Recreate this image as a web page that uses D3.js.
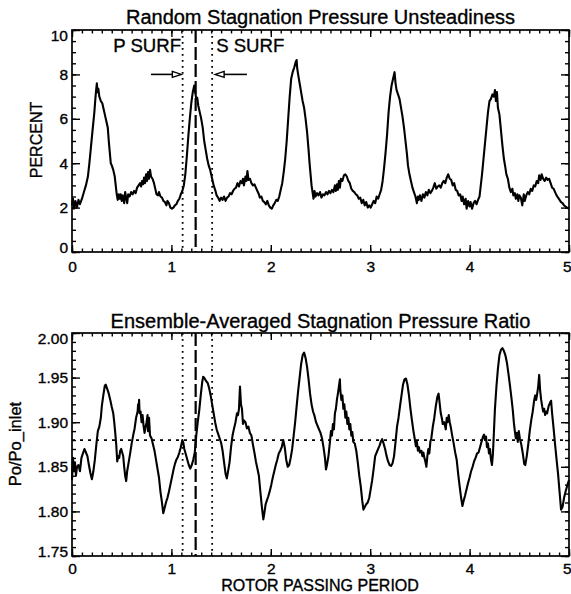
<!DOCTYPE html>
<html>
<head>
<meta charset="utf-8">
<script src="https://d3js.org/d3.v7.min.js"></script>
<style>
  body { margin: 0; background: #fff; }
  text { font-family: "Liberation Sans", Arial, Helvetica, sans-serif; fill: #000; stroke: #000; stroke-width: 0.35px; }
</style>
</head>
<body>
<svg width="571" height="594"></svg>
<script>
// ---- data ----
const titles = ["Random Stagnation Pressure Unsteadiness", "Ensemble-Averaged Stagnation Pressure Ratio"];
const yTitles = ["PERCENT", "Po/Po_inlet"];
const xTitle = "ROTOR PASSING PERIOD";

// rotor passing period (x) and percent (y), upper panel
const unsteadyX = [0.00,0.01,0.02,0.035,0.05,0.065,0.08,0.10,0.12,0.14,0.16,0.175,0.19,0.205,0.225,0.235,0.243,0.25,0.258,0.265,0.275,0.29,0.305,0.315,0.33,0.345,0.36,0.37,0.38,0.39,0.40,0.415,0.43,0.44,0.45,0.46,0.47,0.48,0.49,0.50,0.51,0.525,0.535,0.545,0.555,0.565,0.58,0.595,0.61,0.625,0.64,0.655,0.67,0.685,0.695,0.705,0.715,0.725,0.735,0.745,0.755,0.765,0.775,0.785,0.795,0.81,0.825,0.835,0.85,0.865,0.875,0.89,0.905,0.92,0.935,0.95,0.96,0.975,0.99,1.005,1.02,1.035,1.05,1.065,1.08,1.095,1.11,1.125,1.14,1.155,1.17,1.185,1.20,1.215,1.23,1.24,1.25,1.26,1.27,1.285,1.30,1.315,1.33,1.345,1.36,1.375,1.39,1.40,1.41,1.425,1.44,1.455,1.47,1.485,1.50,1.515,1.53,1.545,1.56,1.575,1.59,1.605,1.62,1.635,1.65,1.665,1.68,1.695,1.71,1.72,1.73,1.745,1.755,1.765,1.775,1.79,1.805,1.82,1.835,1.85,1.865,1.88,1.89,1.905,1.92,1.935,1.95,1.965,1.98,1.995,2.01,2.025,2.04,2.055,2.07,2.085,2.10,2.115,2.13,2.145,2.16,2.175,2.19,2.205,2.22,2.235,2.25,2.26,2.265,2.275,2.29,2.305,2.32,2.335,2.35,2.365,2.38,2.39,2.40,2.41,2.42,2.43,2.44,2.45,2.465,2.48,2.495,2.51,2.525,2.54,2.555,2.57,2.585,2.60,2.615,2.63,2.645,2.655,2.665,2.675,2.685,2.695,2.705,2.72,2.735,2.75,2.765,2.78,2.795,2.81,2.825,2.84,2.855,2.87,2.885,2.90,2.915,2.93,2.945,2.96,2.975,2.99,3.005,3.02,3.035,3.05,3.065,3.08,3.095,3.11,3.125,3.14,3.155,3.17,3.185,3.20,3.215,3.23,3.245,3.255,3.265,3.28,3.295,3.31,3.325,3.34,3.355,3.37,3.38,3.395,3.41,3.425,3.44,3.455,3.47,3.48,3.49,3.50,3.515,3.53,3.545,3.56,3.575,3.59,3.605,3.62,3.635,3.65,3.665,3.68,3.695,3.71,3.725,3.74,3.755,3.77,3.785,3.80,3.815,3.83,3.845,3.86,3.875,3.89,3.905,3.92,3.93,3.945,3.96,3.97,3.985,4.00,4.01,4.025,4.04,4.055,4.07,4.085,4.10,4.11,4.125,4.14,4.155,4.17,4.185,4.20,4.215,4.23,4.245,4.255,4.265,4.275,4.285,4.30,4.315,4.33,4.345,4.36,4.37,4.385,4.40,4.415,4.43,4.44,4.455,4.465,4.48,4.49,4.50,4.515,4.53,4.545,4.555,4.57,4.585,4.60,4.615,4.63,4.645,4.66,4.675,4.69,4.70,4.715,4.725,4.74,4.755,4.77,4.785,4.80,4.815,4.83,4.845,4.86,4.875,4.89,4.905,4.92,4.935,4.95,4.965,4.98,5.00];
const unsteadyPct = [2.1,2.4,1.95,2.3,2.0,2.35,2.15,2.4,2.7,3.0,3.4,4.0,4.7,5.4,6.3,6.9,7.3,7.6,7.2,7.35,7.0,6.8,6.7,6.5,6.2,5.9,5.6,5.0,4.5,4.0,3.9,3.7,3.4,3.0,2.6,2.35,2.6,2.4,2.6,2.3,2.55,2.2,2.7,2.45,2.2,2.6,2.5,2.7,2.6,2.75,2.65,2.9,3.0,3.1,2.95,3.2,3.05,3.35,3.1,3.5,3.2,3.6,3.3,3.7,3.4,3.3,3.1,2.9,2.6,2.55,2.7,2.5,2.45,2.3,2.25,2.1,2.3,2.2,2.0,1.95,2.0,2.1,2.15,2.3,2.4,2.6,2.75,3.0,3.5,4.3,5.2,6.0,6.7,7.2,7.5,7.2,6.9,6.95,6.6,6.3,6.0,5.6,5.0,4.6,4.2,3.9,3.7,3.5,3.3,3.0,2.8,2.55,2.45,2.3,2.45,2.35,2.5,2.3,2.45,2.5,2.65,2.6,2.75,2.85,2.9,3.1,2.95,3.2,3.1,3.3,3.0,3.4,3.2,3.65,3.25,3.3,3.1,3.0,3.05,2.9,2.75,2.6,2.45,2.5,2.3,2.25,2.15,2.3,2.1,2.0,1.95,2.1,2.2,2.35,2.3,2.5,2.8,3.1,3.6,4.2,5.0,6.0,7.0,7.8,8.1,8.3,8.55,8.65,8.3,8.0,7.6,7.2,6.8,6.5,6.0,5.4,4.6,4.0,3.5,3.0,2.7,2.4,2.75,2.5,2.65,2.55,2.7,2.45,2.6,2.55,2.7,2.6,2.75,2.65,2.8,2.7,3.0,2.75,3.05,2.8,3.2,2.9,3.3,3.2,3.45,3.5,3.4,3.2,3.1,2.85,2.75,2.7,2.6,2.55,2.4,2.45,2.2,2.35,2.1,2.25,2.0,2.1,2.0,2.15,2.3,2.2,2.5,2.4,2.6,2.8,3.2,3.8,4.5,5.3,6.3,7.0,7.5,7.8,8.1,7.6,7.3,7.1,6.9,6.5,6.1,5.6,5.0,4.4,3.9,3.5,3.2,2.9,2.7,2.5,2.2,2.5,2.35,2.55,2.3,2.6,2.45,2.7,2.55,2.8,2.65,2.75,2.9,3.1,2.85,2.95,3.0,2.9,3.1,3.2,3.1,3.35,3.5,3.3,3.25,3.0,3.1,2.8,2.75,2.55,2.6,2.3,2.5,2.15,2.4,1.95,2.3,2.05,2.25,1.95,2.2,2.3,2.15,2.35,2.5,2.9,3.5,4.2,4.9,5.6,6.3,6.8,6.9,7.1,7.0,7.3,6.8,7.2,6.5,6.2,5.5,4.8,4.2,3.8,3.5,3.3,2.9,2.7,2.85,2.55,2.65,2.4,2.6,2.3,2.55,2.45,2.1,2.6,2.3,2.55,2.7,2.6,2.85,2.75,3.0,2.95,3.2,3.1,3.45,3.25,3.5,3.3,3.2,3.35,3.25,3.3,3.1,2.9,2.85,2.7,2.55,2.45,2.35,2.25,2.2,2.1,2.05,2.0,1.95];

// rotor passing period (x) and Po/Po_inlet (y), lower panel
const ratioX = [0.00,0.01,0.02,0.03,0.04,0.05,0.065,0.08,0.095,0.11,0.125,0.14,0.155,0.17,0.185,0.20,0.215,0.23,0.245,0.26,0.275,0.29,0.30,0.315,0.33,0.34,0.355,0.37,0.385,0.40,0.415,0.425,0.435,0.445,0.455,0.465,0.475,0.485,0.495,0.505,0.515,0.525,0.535,0.545,0.555,0.57,0.585,0.60,0.615,0.63,0.645,0.66,0.665,0.67,0.675,0.68,0.69,0.70,0.71,0.72,0.73,0.74,0.75,0.76,0.765,0.775,0.785,0.80,0.815,0.83,0.845,0.86,0.875,0.89,0.905,0.918,0.93,0.945,0.96,0.975,0.99,1.005,1.02,1.035,1.05,1.065,1.08,1.095,1.11,1.12,1.13,1.145,1.16,1.175,1.19,1.205,1.22,1.235,1.25,1.265,1.28,1.295,1.31,1.32,1.335,1.35,1.365,1.38,1.395,1.41,1.425,1.44,1.455,1.47,1.485,1.50,1.515,1.53,1.545,1.558,1.57,1.585,1.60,1.615,1.63,1.645,1.66,1.67,1.68,1.69,1.70,1.71,1.72,1.73,1.745,1.76,1.775,1.79,1.805,1.82,1.835,1.85,1.865,1.88,1.895,1.91,1.925,1.935,1.948,1.96,1.975,1.99,2.005,2.02,2.035,2.05,2.065,2.08,2.095,2.11,2.125,2.14,2.155,2.17,2.185,2.20,2.215,2.23,2.245,2.26,2.275,2.29,2.305,2.32,2.335,2.35,2.365,2.38,2.395,2.41,2.425,2.44,2.455,2.47,2.485,2.50,2.515,2.53,2.545,2.555,2.565,2.58,2.595,2.605,2.615,2.625,2.635,2.645,2.655,2.665,2.675,2.685,2.695,2.70,2.71,2.72,2.73,2.74,2.75,2.76,2.77,2.78,2.79,2.80,2.81,2.82,2.83,2.845,2.86,2.875,2.89,2.905,2.92,2.932,2.945,2.96,2.975,2.99,3.005,3.02,3.035,3.05,3.065,3.08,3.095,3.11,3.12,3.135,3.15,3.165,3.18,3.195,3.21,3.225,3.24,3.255,3.27,3.285,3.30,3.315,3.33,3.345,3.36,3.375,3.39,3.405,3.42,3.435,3.45,3.46,3.47,3.48,3.49,3.50,3.515,3.525,3.535,3.545,3.555,3.565,3.575,3.585,3.595,3.605,3.615,3.63,3.645,3.66,3.675,3.688,3.70,3.71,3.72,3.73,3.745,3.76,3.77,3.78,3.79,3.80,3.81,3.825,3.84,3.855,3.87,3.885,3.90,3.915,3.928,3.94,3.955,3.97,3.985,4.00,4.015,4.03,4.045,4.06,4.075,4.09,4.105,4.12,4.135,4.145,4.155,4.165,4.175,4.185,4.195,4.205,4.215,4.225,4.235,4.245,4.255,4.27,4.285,4.30,4.315,4.33,4.345,4.36,4.375,4.39,4.405,4.42,4.435,4.445,4.455,4.465,4.475,4.485,4.495,4.505,4.52,4.535,4.55,4.56,4.575,4.59,4.605,4.62,4.635,4.65,4.66,4.67,4.68,4.69,4.70,4.71,4.72,4.73,4.74,4.75,4.76,4.77,4.78,4.795,4.81,4.82,4.83,4.845,4.86,4.875,4.89,4.905,4.92,4.935,4.95,4.965,4.98,5.00];
const ratioVal = [1.835,1.86,1.845,1.855,1.84,1.85,1.852,1.845,1.86,1.865,1.87,1.866,1.862,1.852,1.843,1.836,1.845,1.858,1.875,1.89,1.895,1.905,1.918,1.93,1.941,1.942,1.937,1.932,1.925,1.917,1.91,1.9,1.888,1.875,1.856,1.862,1.86,1.868,1.87,1.866,1.862,1.85,1.84,1.834,1.845,1.855,1.865,1.876,1.885,1.893,1.905,1.912,1.92,1.915,1.925,1.91,1.912,1.9,1.908,1.896,1.888,1.894,1.9,1.908,1.89,1.905,1.885,1.882,1.875,1.868,1.858,1.848,1.838,1.822,1.81,1.798,1.803,1.81,1.815,1.822,1.83,1.838,1.846,1.853,1.858,1.861,1.866,1.872,1.88,1.877,1.87,1.864,1.858,1.852,1.848,1.852,1.858,1.866,1.885,1.9,1.913,1.93,1.945,1.951,1.949,1.946,1.944,1.938,1.93,1.92,1.91,1.9,1.892,1.887,1.882,1.877,1.868,1.855,1.842,1.837,1.845,1.855,1.872,1.885,1.893,1.9,1.91,1.908,1.915,1.94,1.92,1.915,1.898,1.902,1.9,1.893,1.895,1.888,1.885,1.875,1.866,1.856,1.848,1.84,1.822,1.805,1.791,1.798,1.808,1.812,1.817,1.823,1.83,1.838,1.845,1.852,1.858,1.865,1.868,1.872,1.88,1.872,1.858,1.85,1.852,1.86,1.87,1.885,1.9,1.918,1.935,1.95,1.965,1.975,1.978,1.972,1.962,1.948,1.932,1.92,1.912,1.907,1.9,1.896,1.892,1.888,1.882,1.872,1.86,1.847,1.852,1.862,1.878,1.89,1.885,1.898,1.892,1.91,1.915,1.925,1.932,1.94,1.948,1.935,1.925,1.93,1.915,1.92,1.905,1.912,1.898,1.905,1.892,1.898,1.885,1.889,1.878,1.876,1.868,1.855,1.84,1.828,1.812,1.802,1.805,1.808,1.81,1.815,1.825,1.835,1.848,1.862,1.866,1.87,1.874,1.879,1.881,1.876,1.87,1.862,1.856,1.852,1.851,1.854,1.862,1.878,1.895,1.905,1.918,1.93,1.942,1.948,1.949,1.942,1.93,1.915,1.902,1.89,1.88,1.873,1.878,1.868,1.872,1.866,1.868,1.862,1.866,1.86,1.856,1.85,1.862,1.87,1.865,1.878,1.882,1.895,1.905,1.918,1.928,1.932,1.92,1.91,1.905,1.898,1.9,1.892,1.905,1.9,1.908,1.9,1.895,1.885,1.876,1.866,1.858,1.842,1.828,1.815,1.806,1.812,1.818,1.825,1.832,1.838,1.845,1.85,1.856,1.86,1.865,1.866,1.872,1.878,1.884,1.886,1.88,1.884,1.872,1.876,1.865,1.87,1.858,1.852,1.865,1.89,1.915,1.94,1.96,1.975,1.981,1.983,1.98,1.975,1.967,1.955,1.942,1.928,1.913,1.9,1.89,1.882,1.888,1.878,1.89,1.882,1.875,1.865,1.853,1.852,1.862,1.875,1.89,1.902,1.912,1.925,1.93,1.925,1.932,1.94,1.953,1.935,1.925,1.918,1.912,1.915,1.908,1.912,1.91,1.918,1.922,1.924,1.91,1.893,1.875,1.858,1.842,1.822,1.802,1.805,1.815,1.822,1.828,1.835];

// reference lines and annotations (x in rotor passing periods)
const surfLines = [1.113, 1.41];   // dotted
const passLine = 1.244;            // long dash
const ratioMean = 1.88;            // dotted horizontal
const arrowY = 8;
const arrowP = [0.795, 1.10];      // from, to
const arrowS = [1.76, 1.44];

const svg = d3.select("svg");
const left = 72, right = 569;
const panels = [
  { top: 30, bottom: 252, domain: [0, 10], major: d3.range(0, 10.01, 2), minor: d3.range(0, 10.01, 0.5),
    fmt: d3.format("d"), xPad: 9, titleY: 24, xs: unsteadyX, ys: unsteadyPct },
  { top: 333, bottom: 556, domain: [1.75, 2.0], major: d3.range(0, 6).map(i => 1.75 + i * 0.05),
    minor: d3.range(0, 26).map(i => 1.75 + i * 0.01), fmt: d3.format(".2f"), xPad: 7, titleY: 328,
    xs: ratioX, ys: ratioVal }
];

const x = d3.scaleLinear().domain([0, 5]).range([left, right]);
const xMajor = d3.range(0, 6);
const xMinor = d3.range(0, 51).map(i => i / 10);

panels.forEach((p, pi) => {
  const y = d3.scaleLinear().domain(p.domain).range([p.bottom, p.top]);
  const g = svg.append("g");
  const w = right - left, h = p.bottom - p.top;

  // ticks on all four sides, pointing inward
  const addAxis = (axis, tr, vals, size, labels) => {
    const a = g.append("g").attr("transform", tr)
      .call(axis.tickValues(vals).tickSizeInner(-size).tickSizeOuter(0)
        .tickFormat(labels ? labels : ""));
    a.select(".domain").remove();
    a.selectAll("line").attr("stroke", "#000").attr("stroke-width", 1.4);
    return a;
  };
  addAxis(d3.axisBottom(x), `translate(0,${p.bottom})`, xMinor, 3.5);
  addAxis(d3.axisTop(x), `translate(0,${p.top})`, xMinor, 3.5);
  addAxis(d3.axisTop(x), `translate(0,${p.top})`, xMajor, 7);
  const xb = addAxis(d3.axisBottom(x).tickPadding(p.xPad), `translate(0,${p.bottom})`, xMajor, 7, d3.format("d"));
  xb.selectAll("text").style("font-size", "15.5px").attr("fill", "#000");
  // last label sits at the right edge, keep it inside the page
  xb.selectAll("text").filter(d => d === 5).attr("text-anchor", "end").attr("x", 571 - right);

  addAxis(d3.axisLeft(y), `translate(${left},0)`, p.minor, 4);
  addAxis(d3.axisRight(y), `translate(${right},0)`, p.minor, 4);
  addAxis(d3.axisRight(y), `translate(${right},0)`, p.major, 8);
  const yl = addAxis(d3.axisLeft(y).tickPadding(4), `translate(${left},0)`, p.major, 8, p.fmt);
  yl.selectAll("text").style("font-size", "15.5px").attr("fill", "#000")
    .attr("dy", (d, i, n) => i === 0 ? "-0.0em" : (i === n.length - 1 ? "0.68em" : "0.32em"));

  // frame
  g.append("rect").attr("x", left).attr("y", p.top).attr("width", w).attr("height", h)
    .attr("fill", "none").attr("stroke", "#000").attr("stroke-width", 1.7);

  // reference lines
  surfLines.forEach(v => {
    g.append("line").attr("x1", x(v)).attr("x2", x(v)).attr("y1", p.top).attr("y2", p.bottom)
      .attr("stroke", "#000").attr("stroke-width", 1.8).attr("stroke-dasharray", "1.8,4.2");
  });
  g.append("line").attr("x1", x(passLine)).attr("x2", x(passLine)).attr("y1", p.top).attr("y2", p.bottom)
    .attr("stroke", "#000").attr("stroke-width", 2.2).attr("stroke-dasharray", "13,4");
  if (pi === 1) {
    g.append("line").attr("x1", left).attr("x2", right).attr("y1", y(ratioMean)).attr("y2", y(ratioMean))
      .attr("stroke", "#000").attr("stroke-width", 1.7).attr("stroke-dasharray", "3,5");
  }

  // data curve
  const line = d3.line().x((d, i) => x(p.xs[i])).y(d => y(d));
  g.append("path").datum(p.ys).attr("d", line)
    .attr("fill", "none").attr("stroke", "#000").attr("stroke-width", 2.1).attr("stroke-linejoin", "round");

  // titles
  svg.append("text").attr("x", (left + right) / 2).attr("y", p.titleY).attr("text-anchor", "middle")
    .style("font-size", "20px").text(titles[pi]);
});

// y axis titles
svg.append("text").attr("transform", "translate(42,140) rotate(-90)").attr("text-anchor", "middle")
  .style("font-size", "16px").text(yTitles[0]);
svg.append("text").attr("transform", "translate(21,444) rotate(-90)").attr("text-anchor", "middle")
  .style("font-size", "16.5px").text(yTitles[1]);
svg.append("text").attr("x", 320).attr("y", 591).attr("text-anchor", "middle")
  .style("font-size", "16px").text(xTitle);

// P SURF / S SURF annotations with arrows (upper panel)
const yTop = d3.scaleLinear().domain([0, 10]).range([252, 30]);
svg.append("text").attr("x", x(1.097)).attr("y", yTop(9.0)).attr("text-anchor", "end")
  .style("font-size", "18.6px").text("P SURF");
svg.append("text").attr("x", x(1.45)).attr("y", yTop(9.0)).attr("text-anchor", "start")
  .style("font-size", "18.6px").text("S SURF");

const drawArrow = (from, to) => {
  const x0 = x(from), x1 = x(to), yy = yTop(arrowY);
  const dir = Math.sign(x1 - x0);
  const hb = x1 - dir * 9;
  svg.append("line").attr("x1", x0).attr("x2", hb).attr("y1", yy).attr("y2", yy)
    .attr("stroke", "#000").attr("stroke-width", 1.6);
  svg.append("path").attr("d", `M${hb},${yy - 3}L${x1},${yy}L${hb},${yy + 3}Z`)
    .attr("fill", "#fff").attr("stroke", "#000").attr("stroke-width", 1.4);
};
drawArrow(arrowP[0], arrowP[1]);
drawArrow(arrowS[0], arrowS[1]);
</script>
</body>
</html>
